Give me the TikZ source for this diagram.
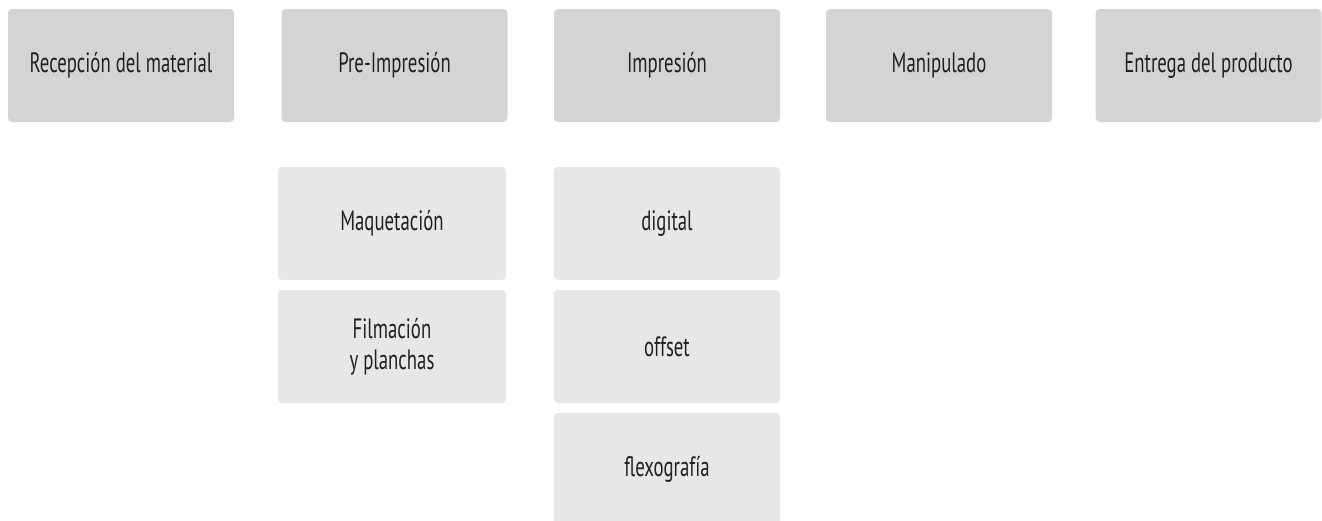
\documentclass[tikz,border=0pt]{standalone}
\usepackage{fontspec}
\setmainfont{PT Sans}[FakeStretch=0.67]
\usetikzlibrary{positioning}

\definecolor{stagegray}{HTML}{D3D4D5}
\definecolor{subgray}{HTML}{E6E7E7}
\definecolor{inktext}{HTML}{231F20}

\tikzset{
  stage/.style={fill=stagegray, rounded corners=3pt, inner sep=0pt,
    minimum width=169.5pt, minimum height=84.75pt, align=center,
    text=inktext, font=\fontsize{21}{23}\selectfont},
  substage/.style={stage, fill=subgray}
}

\begin{document}
\begin{tikzpicture}[x=0.75pt, y=-0.75pt]
  \def\Ytop{65.5};
  \def\Yra{223.5};
  \def\Yrb{346.5};
  \def\Yrc{469.5};
  \def\Xpre{392};
  \def\Ximp{667};
  \useasboundingbox (0,0) rectangle (1322,521);
  \clip (0,0) rectangle (1322,521);

  % main stages
  \node[stage] (recepcion) at (121, \Ytop)    {Recepción del material};
  \node[stage] (preimp)    at (394.5, \Ytop)  {Pre-Impresión};
  \node[stage] (imp)       at (\Ximp, \Ytop)  {Impresión};
  \node[stage] (manip)     at (939, \Ytop)    {Manipulado};
  \node[stage] (entrega)   at (1208.5, \Ytop) {Entrega del producto};

  % pre-impresion
  \node[substage, minimum width=171pt] (maqueta) at (\Xpre, \Yra) {Maquetación};
  \node[substage, minimum width=171pt] (filma)   at (\Xpre, \Yrb) {Filmación\\y planchas};

  % impresion
  \node[substage] (digital) at (\Ximp, \Yra) {digital};
  \node[substage] (offset)  at (\Ximp, \Yrb) {offset};
  \node[substage] (flexo)   at (\Ximp, \Yrc) {flexografía};
\end{tikzpicture}
\end{document}
